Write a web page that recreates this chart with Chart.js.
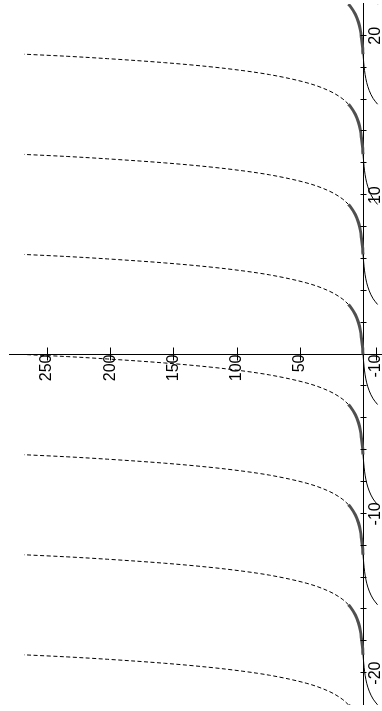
<!DOCTYPE html>
<html>
<head>
<meta charset="utf-8">
<script src="https://cdn.jsdelivr.net/npm/chart.js@4/dist/chart.umd.min.js"></script>
<style>
    html, body { margin: 0; padding: 0; background: #fff; overflow: hidden; }
    #wrap {
        position: absolute; left: 0; top: 711px;
        width: 711px; height: 382px;
        transform-origin: 0 0;
        transform: rotate(-90deg);
    }
</style>
</head>
<body>
<div id="wrap"><canvas id="myChart" width="711" height="382"></canvas></div>
<script>
// left edge of every 2pi period on the x axis
const periodStarts = [-25.13, -18.85, -12.57, -6.28, 0, 6.28, 12.57, 18.85];

// solid thick branch, first half of a period
const thickOffsets = [0, 0.5, 1, 1.5, 2, 2.5, 3, 3.14];
const thickValues = [0, 0.5, 1.2, 2.1, 3.6, 6.0, 10.0, 11.5];

// second half of a period: dashed branch going up, thin branch below the axis
const upperOffsets = [3.14, 3.5, 4, 4.5, 5, 5.25, 5.5, 5.75, 6, 6.15, 6.28];
const dashedValues = [11.5, 16.5, 27.3, 45, 74, 95, 122, 157, 202, 234, 268];
const thinValues = [-11.5, -8.0, -4.9, -2.9, -1.65, -1.2, -0.85, -0.55, -0.28, -0.13, 0];

// axis ticks
const xTicks = [-20, -18, -16, -14, -12, -10, -8, -6, -4, -2, 0, 2, 4, 6, 8, 10, 12, 14, 16, 18, 20];
const xLabels = [-20, -10, 10, 20];
const yTicks = [-10, 50, 100, 150, 200, 250];

function branch(start, offsets, values) {
    return offsets.map((o, i) => ({ x: start + o, y: values[i] }));
}

const datasets = [];
periodStarts.forEach(p => {
    datasets.push({
        data: branch(p, thickOffsets, thickValues),
        borderColor: '#505050', borderWidth: 3
    });
    datasets.push({
        data: branch(p, upperOffsets, dashedValues),
        borderColor: '#000', borderWidth: 1, borderDash: [4, 2.5]
    });
    datasets.push({
        data: branch(p, upperOffsets, thinValues),
        borderColor: '#000', borderWidth: 1
    });
});
datasets.forEach(d => {
    d.pointRadius = 0;
    d.fill = false;
    d.cubicInterpolationMode = 'monotone';
});

// tick marks crossing the axes
const crossTicks = {
    id: 'crossTicks',
    afterDraw(chart) {
        const ctx = chart.ctx;
        const sx = chart.scales.x, sy = chart.scales.y;
        const x0 = Math.round(sx.getPixelForValue(0)) + 0.5;
        const y0 = Math.round(sy.getPixelForValue(0)) + 0.5;
        ctx.save();
        ctx.strokeStyle = '#000';
        ctx.lineWidth = 1;
        ctx.beginPath();
        xTicks.forEach(v => {
            if (v === 0) return;
            const px = Math.round(sx.getPixelForValue(v)) + 0.5;
            ctx.moveTo(px, y0 - 3);
            ctx.lineTo(px, y0 + 3);
        });
        yTicks.forEach(v => {
            const py = Math.round(sy.getPixelForValue(v)) + 0.5;
            ctx.moveTo(x0 - 7, py);
            ctx.lineTo(x0 + 6, py);
        });
        ctx.stroke();
        ctx.restore();
    }
};

// axes sit inside the plot, so they take no room of their own
function noRoom(s) {
    if (s.isHorizontal()) s.height = 0; else s.width = 0;
    s.paddingTop = s.paddingBottom = s.paddingLeft = s.paddingRight = 0;
}

const font = { family: "'Liberation Sans', Arial, sans-serif", size: 16 };

const ctx = document.getElementById('myChart').getContext('2d');
const myChart = new Chart(ctx, {
    type: 'line',
    data: { datasets: datasets },
    plugins: [crossTicks],
    options: {
        responsive: false,
        animation: false,
        devicePixelRatio: 1,
        layout: { padding: { left: 6, right: 4, top: 9, bottom: 0 } },
        plugins: { legend: { display: false }, tooltip: { enabled: false } },
        scales: {
            x: {
                type: 'linear',
                min: -22, max: 22,
                position: { y: 0 },
                afterBuildTicks: s => { s.ticks = xTicks.map(v => ({ value: v })); },
                afterFit: noRoom,
                grid: { display: false, drawTicks: false },
                border: { display: true, color: '#000', width: 1 },
                ticks: {
                    color: '#000', font: font, padding: 3,
                    autoSkip: false, maxRotation: 0,
                    callback: v => xLabels.includes(v) ? String(v) : ''
                }
            },
            y: {
                type: 'linear',
                min: -15, max: 280,
                position: { x: 0 },
                afterBuildTicks: s => { s.ticks = yTicks.map(v => ({ value: v })); },
                afterFit: noRoom,
                grid: { display: false, drawTicks: false },
                border: { display: true, color: '#000', width: 1 },
                ticks: {
                    color: '#000', font: font, padding: 8,
                    autoSkip: false,
                    callback: v => String(v)
                }
            }
        }
    }
});
</script>
</body>
</html>
